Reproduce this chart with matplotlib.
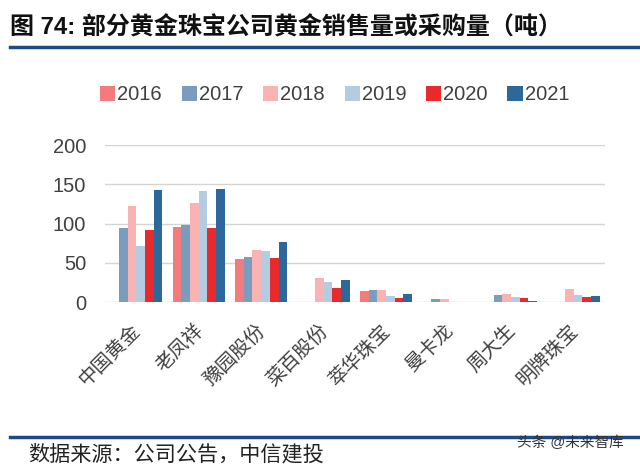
import matplotlib
matplotlib.use('Agg')
import matplotlib.pyplot as plt
import matplotlib.transforms as mtransforms
from matplotlib.lines import Line2D
import numpy as np

plt.rcParams['font.family'] = ['Liberation Sans', 'Noto Sans CJK SC', 'DejaVu Sans']

companies = ['中国黄金', '老凤祥', '豫园股份', '菜百股份', '萃华珠宝', '曼卡龙', '周大生', '明牌珠宝']
years = ['2016', '2017', '2018', '2019', '2020', '2021']
colors = ['#F47B7B', '#7A9DBF', '#F9B3B3', '#B4CCE2', '#E82A2C', '#2D689C']

v2016 = [0, 95, 55, 0, 14, 0, 0, 0]
v2017 = [94, 98, 58, 0, 15, 4, 9, 0]
v2018 = [123, 126, 66, 31, 15, 4, 10, 17]
v2019 = [72, 142, 65, 25, 8, 0, 7, 9]
v2020 = [92, 94, 56, 18, 5, 0, 5, 6]
v2021 = [143, 144, 76, 28, 10, 0, 1, 8]
series = [v2016, v2017, v2018, v2019, v2020, v2021]

fig = plt.figure(figsize=(6.4, 4.65), dpi=100)
ax = fig.add_axes([0.164, 0.3505, 0.781, 0.3375])

x = np.arange(len(companies))
w = 0.139
for i, (vals, c, yr) in enumerate(zip(series, colors, years)):
    ax.bar(x + (i - 2.5) * w, vals, w, color=c, label=yr, zorder=3)

ax.set_xlim(-0.5, len(companies) - 0.5)
ax.set_ylim(0, 200)
ax.set_yticks([0, 50, 100, 150, 200])
ax.yaxis.grid(True, color='#D4D4D4', lw=1, zorder=0)
for s in ax.spines.values():
    s.set_visible(False)
ax.tick_params(axis='both', length=0, labelsize=14.5, colors='#404040')
ax.tick_params(axis='y', pad=13.5)
ax.set_xticks(x)
ax.set_xticklabels(companies, rotation=45, ha='right', va='top',
                   rotation_mode='anchor', fontsize=14)
shift = mtransforms.ScaledTranslation(-0.05, -0.14, fig.dpi_scale_trans)
for lab in ax.get_xticklabels():
    lab.set_transform(lab.get_transform() + shift)

leg = fig.legend(loc='center', bbox_to_anchor=(0.523, 0.796), ncol=6, frameon=False,
                 fontsize=14.5, handlelength=0.75, handleheight=0.75,
                 handletextpad=0.1, columnspacing=0.98, borderaxespad=0)
for t in leg.get_texts():
    t.set_color('#404040')

fig.text(0.016, 0.940, '图 74: 部分黄金珠宝公司黄金销售量或采购量（吨）',
         fontsize=17.3, fontweight='bold', va='center', ha='left', color='#111111')
fig.add_artist(Line2D([0.016, 1.0], [0.899, 0.899], color='#1F4A85', lw=2.5))
fig.add_artist(Line2D([0.016, 1.0], [0.06, 0.06], color='#1F4A85', lw=2.5))
fig.text(0.044, 0.024, '数据来源：公司公告，中信建投', fontsize=15.2,
         va='center', ha='left', color='#222222')
fig.text(0.975, 0.047, '头条 @未来智库', fontsize=10.5, va='center', ha='right',
         color='#333333')

fig.savefig('out.png', dpi=100, facecolor='white')
